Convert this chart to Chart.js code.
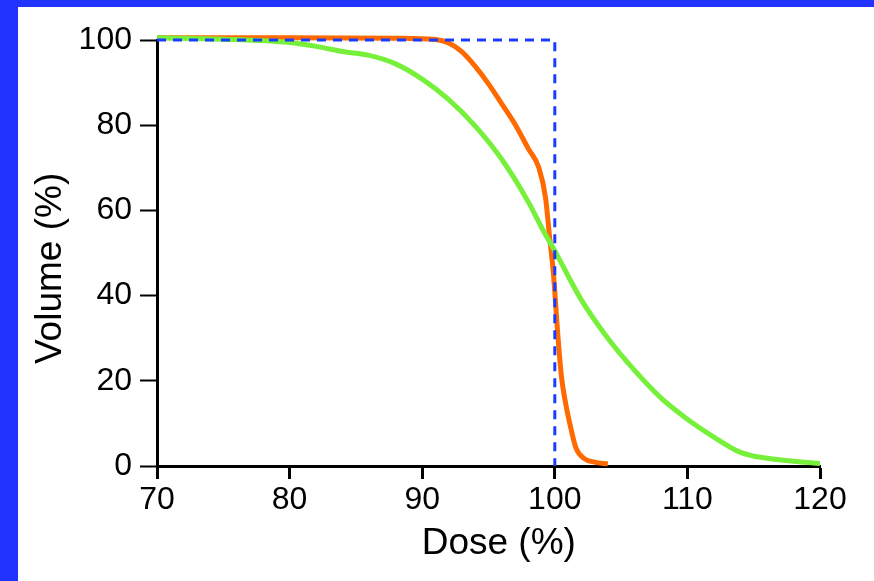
<!DOCTYPE html>
<html>
<head>
<meta charset="utf-8">
<script src="https://cdn.jsdelivr.net/npm/chart.js@4"></script>
<style>
  html, body { margin: 0; padding: 0; }
  body { width: 874px; height: 581px; background: #2233ff; position: relative; overflow: hidden; }
  #box { position: absolute; left: 18px; top: 7px; width: 856px; height: 574px; background: #fff; }
</style>
</head>
<body>
<div id="box"><canvas id="dvhChart"></canvas></div>
<script>
// dose-volume curves
const greenDose   = [70, 75, 80, 82, 84, 86, 88, 90, 92, 94, 96, 98, 99, 100, 102, 104, 106, 108, 110, 112, 114, 116, 118, 120];
const greenVolume = [100.5, 100.2, 99.4, 98.5, 97.3, 96.4, 94.4, 90.8, 86, 79.8, 72, 62, 56, 50.5, 39, 30, 22.5, 16, 11, 6.8, 3.2, 1.8, 1.1, 0.6];

const orangeDose   = [70, 80, 88, 91, 92, 93, 94, 95, 96, 97, 98, 98.8, 99.3, 99.6, 99.9, 100.2, 100.5, 100.8, 101.2, 101.6, 102.2, 103, 104];
const orangeVolume = [100.5, 100.5, 100.4, 100.1, 99.3, 97.2, 93.8, 89.7, 85, 80.2, 74.5, 70, 63, 54, 45, 32, 21, 15, 9, 4.2, 1.8, 0.9, 0.5];

const idealDose   = [70, 100, 100];
const idealVolume = [100, 100, 0];

const xTicks = [70, 80, 90, 100, 110, 120];
const yTicks = [0, 20, 40, 60, 80, 100];

const toPoints = (xs, ys) => xs.map((x, i) => ({ x: x, y: ys[i] }));

Chart.defaults.font.family = 'Liberation Sans, Arial, sans-serif';
Chart.defaults.color = '#000';

const ctx = document.getElementById('dvhChart').getContext('2d');
new Chart(ctx, {
    type: 'line',
    data: {
        datasets: [
            {
                label: 'Ideal',
                data: toPoints(idealDose, idealVolume),
                borderColor: '#1a3cff',
                borderWidth: 3,
                borderDash: [9, 7],
                pointRadius: 0,
                tension: 0,
                clip: false
            },
            {
                label: 'Plan A',
                data: toPoints(greenDose, greenVolume),
                borderColor: '#76f03a',
                borderWidth: 5,
                pointRadius: 0,
                cubicInterpolationMode: 'monotone',
                clip: false
            },
            {
                label: 'Plan B',
                data: toPoints(orangeDose, orangeVolume),
                borderColor: '#ff6a00',
                borderWidth: 5,
                pointRadius: 0,
                cubicInterpolationMode: 'monotone',
                clip: false
            }
        ]
    },
    options: {
        responsive: true,
        maintainAspectRatio: false,
        animation: false,
        layout: {
            padding: { left: 0, right: 54, top: 33, bottom: 0 }
        },
        plugins: {
            legend: { display: false },
            tooltip: { enabled: false }
        },
        scales: {
            x: {
                type: 'linear',
                min: 70,
                max: 120,
                afterBuildTicks: s => { s.ticks = xTicks.map(v => ({ value: v })); },
                afterFit: s => { s.height = 115; },
                ticks: { font: { size: 32 }, padding: 2, maxRotation: 0 },
                grid: { drawOnChartArea: false, drawTicks: true, tickLength: 13, tickColor: '#000', tickWidth: 3 },
                border: { color: '#000', width: 3 },
                title: {
                    display: true,
                    text: '  Dose (%)',
                    font: { size: 37 },
                    padding: { top: 0, bottom: 15 }
                }
            },
            y: {
                min: 0,
                max: 100,
                afterBuildTicks: s => { s.ticks = yTicks.map(v => ({ value: v })); },
                afterFit: s => { s.width = 139; },
                ticks: { font: { size: 32 }, padding: 8 },
                grid: { drawOnChartArea: false, drawTicks: true, tickLength: 17, tickColor: '#000', tickWidth: 2 },
                border: { color: '#000', width: 3 },
                title: {
                    display: true,
                    text: 'Volume (%)   ',
                    font: { size: 37 },
                    padding: { top: 11, bottom: 0 }
                }
            }
        }
    }
});
</script>
</body>
</html>
